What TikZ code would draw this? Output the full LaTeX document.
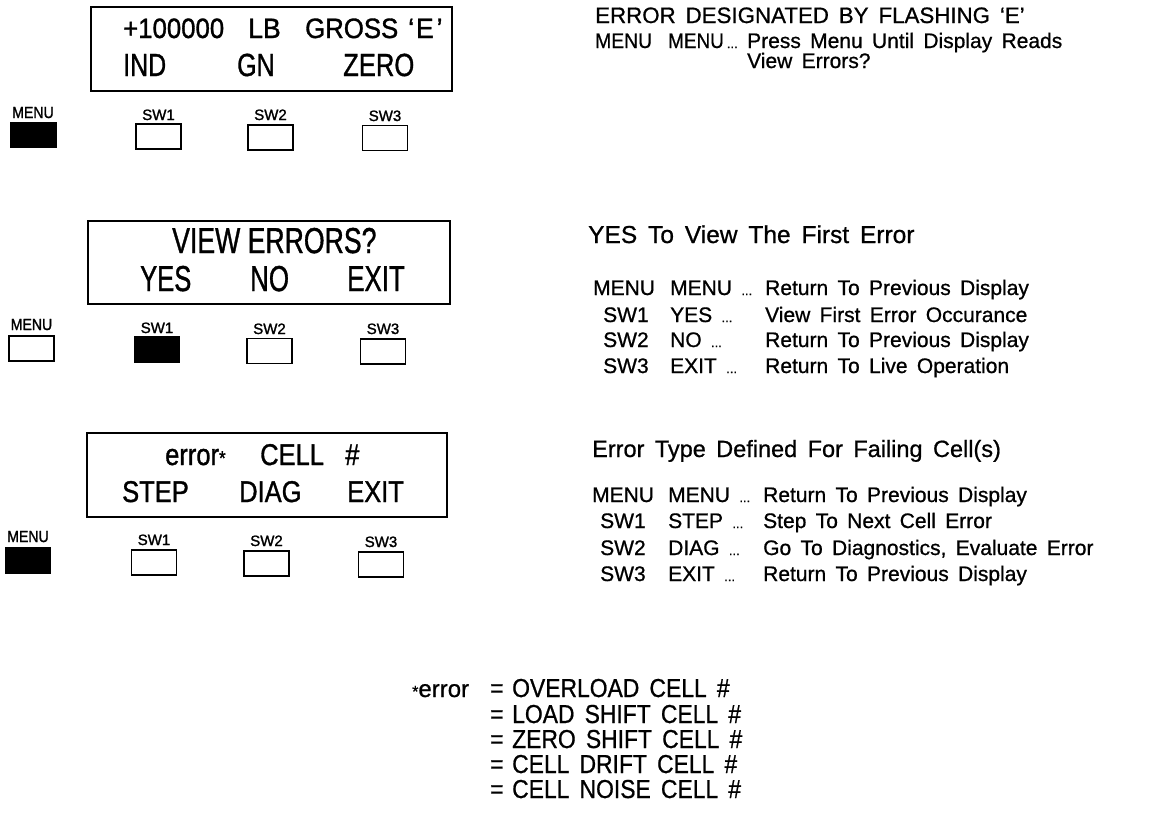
\documentclass[tikz,border=0pt]{standalone}
\usepackage{fontspec}
\usepackage{graphicx}
\setmainfont{Liberation Sans}
\newfontfamily\rf[WordSpace=1.6,FakeBold=0.8]{Liberation Sans}
\newfontfamily\df[FakeBold=1.2]{Liberation Sans}
\newfontfamily\lf[FakeBold=1.5]{Liberation Sans}
\newcommand\fs[1]{\fontsize{#1}{#1}\selectfont}
\newcommand\elp{{\fs{13}...}}
\newcommand\sx[2]{\scalebox{#1}[1]{#2}}
\newcommand\rrow[8]{%
  \node[rt] (#1a) at (#2,#3) {#4};
  \node[rt] (#1b) at (#5,#3) {#6};
  \node[rt] (#1c) at (#7,#3) {#8};}
\begin{document}
\begin{tikzpicture}[x=1pt,y=-1pt,
  disp/.style={draw, line width=2.2pt, inner sep=0pt},
  btn/.style={draw, line width=1.3pt, minimum width=45pt, minimum height=25pt, inner sep=0pt},
  btnon/.style={btn, fill=black},
  lab/.style={anchor=base, inner sep=0pt, font=\lf\fs{15}},
  word/.style={anchor=base west, inner sep=0pt},
  rt/.style={anchor=base west, inner sep=0pt, font=\rf\fs{21}},
  hd/.style={anchor=base west, inner sep=0pt, font=\rf\fs{23}},
  ft/.style={anchor=base west, inner sep=0pt, font=\rf\fs{26}}]
\useasboundingbox (0,0) rectangle (1162,812);

% ---------- display 1 ----------
\node[disp, minimum width=361pt, minimum height=84pt] (box1) at (271.5,49) {};
\node[word, font=\df\fs{28}] (d1a) at (123,38) {\sx{0.92}{+100000}};
\node[word, font=\df\fs{28}] (d1b) at (248,38) {\sx{0.95}{LB}};
\node[word, font=\df\fs{28}] (d1c) at (305,38) {\sx{0.92}{GROSS}};
\node[word, font=\df\fs{28}] (d1d) at (408,38) {\sx{0.95}{‘\kern2pt E\kern3pt’}};
\node[word, font=\df\fs{32}] (d1e) at (123,76) {\sx{0.78}{IND}};
\node[word, font=\df\fs{32}] (d1f) at (237,76) {\sx{0.78}{GN}};
\node[word, font=\df\fs{32}] (d1g) at (343,76) {\sx{0.8}{ZERO}};

\node[lab, font=\lf\fs{16}] (m1l) at (33,118) {\sx{0.88}{MENU}};
\node[lab] (s11l) at (158.5,120) {SW1};
\node[lab] (s12l) at (270.5,120) {SW2};
\node[lab] (s13l) at (385,121) {SW3};
\node[btnon] (m1) at (33.5,135) {};
\node[btn] (s11) at (158.5,136.5) {};
\node[btn] (s12) at (270.5,137.5) {};
\node[btn] (s13) at (385,138) {};

% ---------- display 2 ----------
\node[disp, minimum width=362pt, minimum height=83pt] (box2) at (269,262.5) {};
\node[word, font=\df\fs{36}] (d2a) at (172,253) {\sx{0.74}{VIEW ERRORS?}};
\node[word, font=\df\fs{36}] (d2b) at (140,291) {\sx{0.71}{YES}};
\node[word, font=\df\fs{36}] (d2c) at (250,291) {\sx{0.72}{NO}};
\node[word, font=\df\fs{36}] (d2d) at (347,291) {\sx{0.72}{EXIT}};

\node[lab, font=\lf\fs{16}] (m2l) at (31.5,330) {\sx{0.88}{MENU}};
\node[lab] (s21l) at (157,333) {SW1};
\node[lab] (s22l) at (269.5,334) {SW2};
\node[lab] (s23l) at (383,334) {SW3};
\node[btn] (m2) at (31.5,348.5) {};
\node[btnon] (s21) at (157,349.5) {};
\node[btn] (s22) at (269.5,351) {};
\node[btn] (s23) at (383,351.5) {};

% ---------- display 3 ----------
\node[disp, minimum width=360pt, minimum height=84pt] (box3) at (267,475) {};
\node[word, font=\df\fs{30}] (d3a) at (165,465) {\sx{0.85}{error{\fs{20}*}}};
\node[word, font=\df\fs{30}] (d3b) at (260,465) {\sx{0.85}{CELL}};
\node[word, font=\df\fs{30}] (d3c) at (345,465) {\sx{0.85}{\#}};
\node[word, font=\df\fs{30}] (d3d) at (122,502) {\sx{0.85}{STEP}};
\node[word, font=\df\fs{30}] (d3e) at (239,502) {\sx{0.85}{DIAG}};
\node[word, font=\df\fs{30}] (d3f) at (347,502) {\sx{0.85}{EXIT}};

\node[lab, font=\lf\fs{16}] (m3l) at (28,542) {\sx{0.88}{MENU}};
\node[lab] (s31l) at (154,545) {SW1};
\node[lab] (s32l) at (266.5,546) {SW2};
\node[lab] (s33l) at (381,547) {SW3};
\node[btnon] (m3) at (28,560.5) {};
\node[btn] (s31) at (154,562.5) {};
\node[btn] (s32) at (266.5,563.5) {};
\node[btn] (s33) at (381,564.5) {};

% ---------- right text, section 1 ----------
\node[hd, font=\rf\fs{22.3}] (h1) at (595,23) {ERROR DESIGNATED BY FLASHING ‘E’};
\rrow{r11}{595}{48}{\sx{0.92}{MENU}}{668}{\sx{0.9}{MENU}\kern3pt\elp}{747}{Press Menu Until Display Reads}
\node[rt] (r12c) at (747,68) {View Errors?};

% ---------- right text, section 2 ----------
\node[hd, font=\rf\fs{24.5}] (h2) at (588,243) {YES To View The First Error};
\rrow{r21}{593}{295}{MENU}{670}{MENU \elp}{765}{Return To Previous Display}
\rrow{r22}{603}{322}{SW1}{670}{YES \elp}{765}{View First Error Occurance}
\rrow{r23}{603}{347}{SW2}{670}{NO \elp}{765}{Return To Previous Display}
\rrow{r24}{603}{373}{SW3}{670}{EXIT \elp}{765}{Return To Live Operation}

% ---------- right text, section 3 ----------
\node[hd, font=\rf\fs{23.5}] (h3) at (592,457) {Error Type Defined For Failing Cell(s)};
\rrow{r31}{592}{502}{MENU}{668}{MENU \elp}{763}{Return To Previous Display}
\rrow{r32}{600}{528}{SW1}{668}{STEP \elp}{763}{Step To Next Cell Error}
\rrow{r33}{600}{555}{SW2}{668}{DIAG \elp}{763}{Go To Diagnostics, Evaluate Error}
\rrow{r34}{600}{581}{SW3}{668}{EXIT \elp}{763}{Return To Previous Display}

% ---------- footnote ----------
\node[ft, font=\rf\fs{24}] (fe) at (412,697) {{\fs{16}*}error};
\node[ft] (q1) at (490,697) {\sx{0.88}{=}};
\node[ft] (q2) at (490,723) {\sx{0.88}{=}};
\node[ft] (q3) at (490,748) {\sx{0.88}{=}};
\node[ft] (q4) at (490,773) {\sx{0.88}{=}};
\node[ft] (q5) at (490,798) {\sx{0.88}{=}};
\node[ft] (f1) at (512,697) {\sx{0.88}{OVERLOAD CELL \#}};
\node[ft] (f2) at (512,723) {\sx{0.88}{LOAD SHIFT CELL \#}};
\node[ft] (f3) at (512,748) {\sx{0.88}{ZERO SHIFT CELL \#}};
\node[ft] (f4) at (512,773) {\sx{0.88}{CELL DRIFT CELL \#}};
\node[ft] (f5) at (512,798) {\sx{0.88}{CELL NOISE CELL \#}};
\end{tikzpicture}
\end{document}
